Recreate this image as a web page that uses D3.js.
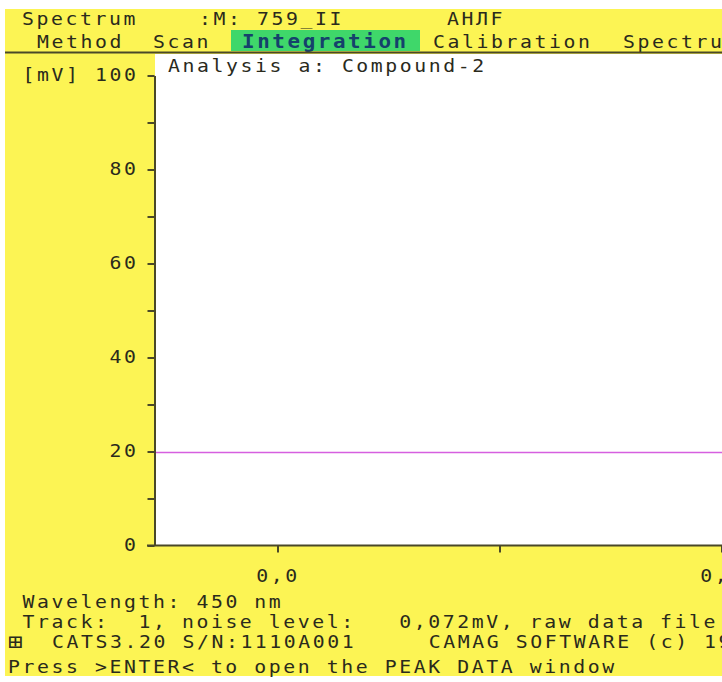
<!DOCTYPE html>
<html>
<head>
<meta charset="utf-8">
<script src="https://cdn.jsdelivr.net/npm/d3@7"></script>
<style>
  html, body { margin: 0; padding: 0; background: #ffffff; }
  svg { display: block; }
  text { font-family: "DejaVu Sans Mono", "Liberation Mono", monospace; }
</style>
</head>
<body>
<svg id="screen" width="722" height="682"></svg>
<script>
// ---- data ----
const yTicksMajor = [0, 20, 40, 60, 80, 100];
const yTicksMinor = [10, 30, 50, 70, 90];
const xTicksMajor = [0.0, 0.1];
const xTicksMinor = [0.05];
const thresholdLevel = [20];           // mV level line
const menuItems = ["Method", "Scan", "Integration", "Calibration", "Spectrum"];
const activeMenu = "Integration";
const headerFields = ["Spectrum", ":M: 759_II", "AHЛF"];
const analysisTitle = "Analysis a: Compound-2";
const statusLines = [
  "Wavelength: 450 nm",
  "Track:  1, noise level:   0,072mV, raw data file",
  "CATS3.20 S/N:1110A001     CAMAG SOFTWARE (c) 1994",
  "Press >ENTER< to open the PEAK DATA window"
];
const statusIcon = "⊞";

// ---- layout ----
const W = 722, H = 682;
const CW = 14.5;                 // character cell width
const FS = 18;                   // font size
const SX = 1.1;                  // horizontal glyph stretch
const LS = (CW - FS * 0.602 * SX) / SX;
const yellow = "#fcf454", ink = "#2a2a1c", axisInk = "#4a4828";

const svg = d3.select("#screen");

// clip so text runs off the right edge like a terminal screen
svg.append("defs").append("clipPath").attr("id", "scr")
  .append("rect").attr("x", 0).attr("y", 0).attr("width", W).attr("height", H);

const root = svg.append("g").attr("clip-path", "url(#scr)");

root.append("rect").attr("x", 5).attr("y", 9).attr("width", W - 5).attr("height", 667)
  .attr("fill", yellow);

// monospace text on the character grid
function txt(str, x, y, opts = {}) {
  const g = root.append("g").attr("transform", `scale(${SX},1)`);
  return g.append("text")
    .attr("x", x / SX).attr("y", y)
    .attr("font-size", opts.size || FS)
    .attr("letter-spacing", LS)
    .attr("fill", opts.fill || ink)
    .attr("font-weight", opts.bold ? "bold" : "normal")
    .attr("xml:space", "preserve")
    .text(str);
}

// header row
txt(headerFields[0], 22, 25);
txt(headerFields[1], 199, 25);
txt(headerFields[2], 447, 25);

// menu row
const menuX = [37, 153, 242, 433, 623];
const ai = menuItems.indexOf(activeMenu);
root.append("rect").attr("x", 231).attr("y", 30).attr("width", 189).attr("height", 21)
  .attr("fill", "#3fd76a");
menuItems.forEach((m, i) => {
  txt(m, menuX[i], 48, i === ai ? { bold: true, fill: "#15416c", size: 19 } : {});
});
root.append("line").attr("x1", 5).attr("x2", W).attr("y1", 52.5).attr("y2", 52.5)
  .attr("stroke", axisInk).attr("stroke-width", 2);

// plot area
const plotL = 155, plotT = 54, plotB = 545;
root.append("rect").attr("x", plotL).attr("y", plotT).attr("width", W - plotL)
  .attr("height", plotB - plotT).attr("fill", "#ffffff");

txt(analysisTitle, 168, 72);

// scales
const y = d3.scaleLinear().domain([0, 100]).range([545.5, 75.5]);
const x = d3.scaleLinear().domain([0, 0.1]).range([278, 722]);

// threshold line
root.selectAll(".lvl").data(thresholdLevel).join("line")
  .attr("class", "lvl")
  .attr("x1", plotL).attr("x2", W)
  .attr("y1", d => Math.round(y(d)) + 0.5).attr("y2", d => Math.round(y(d)) + 0.5)
  .attr("stroke", "#d65fe0").attr("stroke-width", 1.4);

// y axis
const yAxisG = root.append("g").attr("transform", `translate(${plotL - 0.5},0)`);
yAxisG.call(d3.axisLeft(y).tickValues(yTicksMajor.concat(yTicksMinor))
  .tickSize(7).tickSizeOuter(0).tickFormat(""));
yAxisG.selectAll("path, line").attr("stroke", axisInk).attr("stroke-width", 2);

// x axis
const xAxisG = root.append("g").attr("transform", `translate(0,${y(0)})`);
xAxisG.append("line").attr("x1", plotL - 8).attr("x2", W)
  .attr("stroke", axisInk).attr("stroke-width", 2);
xAxisG.selectAll(".xt").data(xTicksMajor.concat(xTicksMinor)).join("line")
  .attr("class", "xt")
  .attr("x1", d => x(d)).attr("x2", d => x(d))
  .attr("y1", 0).attr("y2", 7)
  .attr("stroke", axisInk).attr("stroke-width", 2);

// y tick labels, right aligned to the grid column ending at x=138.5
yTicksMajor.forEach(v => {
  const s = (v === 100 ? "[mV] " : "") + String(v);
  txt(s, 138.5 - s.length * CW, y(v) + 6);
});

// x tick labels, centered on the ticks
const fmtX = v => d3.format(".1f")(v).replace(".", ",");
xTicksMajor.forEach(v => {
  const s = fmtX(v);
  txt(s, x(v) - s.length * CW / 2, 582);
});

// status lines
txt(statusLines[0], 22.5, 608);
txt(statusLines[1], 22.5, 628);
txt(statusIcon, 8, 649, { size: 22 });
txt(statusLines[2], 52, 648);
txt(statusLines[3], 8, 673);
</script>
</body>
</html>
